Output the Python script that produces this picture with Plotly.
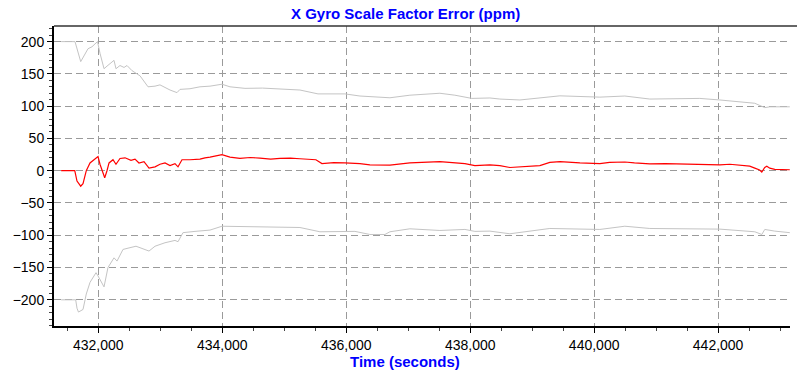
import plotly.graph_objects as go

# Time (seconds) and values (ppm)
t_red = [431400, 431620, 431656, 431716, 431753, 431806, 431866, 431958, 431995, 432027,
         432103, 432140, 432173, 432237, 432285, 432350, 432431, 432527, 432592, 432656,
         432737, 432818, 432915, 432995, 433076, 433157, 433237, 433286, 433350, 433479,
         433640, 433721, 433802, 433995, 434124, 434285, 434450, 434608, 434780, 434931,
         435100, 435253, 435511, 435608, 435800, 435979, 436221, 436382, 436705, 437027,
         437300, 437511, 437915, 438076, 438318, 438479, 438640, 438900, 439124, 439285,
         439450, 439770, 440092, 440250, 440495, 440650, 440898, 441150, 441544, 442027,
         442190, 442350, 442510, 442592, 442670, 442705, 442753, 442786, 442834, 442915,
         443157]
v_red = [0, 0, -16, -24, -20, 0, 12, 20, 22, 10,
         -11, 0, 12, 17, 10, 19, 20, 16, 18, 12,
         14, 4, 6, 10, 12, 8, 11, 6, 17, 17,
         18, 20, 21, 25, 21, 19, 20.5, 19.5, 18, 19,
         19.5, 18.5, 17, 11, 12.5, 12, 11, 9, 8.5, 12,
         13, 14, 11, 8, 9, 8, 5, 6, 8, 13,
         14, 12, 11, 13, 13.5, 12, 10.5, 11, 10, 9,
         10, 8, 7, 4, 1, -2, 5, 7, 4, 2,
         1.5]

t_upper = [431400, 431624, 431716, 431753, 431834, 431898, 431963, 431987, 432027, 432092,
           432140, 432253, 432285, 432350, 432415, 432463, 432544, 432608, 432673, 432802,
           432915, 432995, 433157, 433269, 433318, 433479, 433640, 433802, 433995, 434124,
           434366, 434650, 434931, 435253, 435544, 435979, 436221, 436705, 437027, 437511,
           437753, 438028, 438318, 438479, 438802, 439124, 439447, 440092, 440495, 440898,
           441705, 442027, 442592, 442753, 442834, 443157]
v_upper = [200, 200, 169, 176, 189, 192, 197, 200, 182, 158,
           162, 171, 158, 163, 160, 163, 155, 151, 147, 130,
           131, 133, 125, 121, 126, 127, 130, 131, 134, 130,
           127.6, 128, 126.5, 125, 119, 119, 115.7, 113, 117, 120,
           117, 112, 112.7, 111, 109.6, 113, 116, 114, 115.7, 111,
           112, 109.6, 104.5, 97.7, 99, 99]

t_lower = [431400, 431635, 431656, 431680, 431753, 431806, 431866, 431963, 431995, 432092,
           432156, 432253, 432302, 432398, 432479, 432608, 432818, 432915, 433076, 433237,
           433286, 433366, 433560, 433640, 433802, 433995, 434608, 435253, 435576, 436140,
           436382, 436624, 436705, 437027, 437511, 437915, 438076, 438318, 438640, 439285,
           440092, 440495, 440898, 441705, 442027, 442592, 442705, 442753, 442915, 443157]
v_lower = [-200, -200, -213, -219, -215, -191, -173, -158, -163, -180,
           -150, -135, -140, -122, -120, -117, -124.5, -117, -111.6, -108,
           -110, -96, -94, -93, -92, -86, -87.5, -88, -94.6, -94,
           -98.8, -98.8, -94.6, -90, -92.6, -91, -94, -93.6, -97.7, -89.5,
           -91, -86, -89.5, -91, -90.5, -94.6, -98.8, -91, -93.6, -96]

y_ticks = [-200, -150, -100, -50, 0, 50, 100, 150, 200]
x_ticks = [432000, 434000, 436000, 438000, 440000, 442000]
x_labels = ["432,000", "434,000", "436,000", "438,000", "440,000", "442,000"]

fig = go.Figure()
fig.add_trace(go.Scatter(x=t_upper, y=v_upper, mode="lines",
                         line=dict(color="#C4C4C4", width=1), hoverinfo="skip"))
fig.add_trace(go.Scatter(x=t_lower, y=v_lower, mode="lines",
                         line=dict(color="#C4C4C4", width=1), hoverinfo="skip"))
fig.add_trace(go.Scatter(x=t_red, y=v_red, mode="lines",
                         line=dict(color="#FF0000", width=1.2)))

font_family = "Liberation Sans, Arial, sans-serif"
blue_bold = dict(family=font_family, size=15, color="#0000FF")
fig.update_layout(
    width=797, height=374,
    margin=dict(l=54, r=7, t=26, b=48, autoexpand=False),
    paper_bgcolor="white", plot_bgcolor="white",
    showlegend=False,
    font=dict(family=font_family, size=14, color="black"),
    annotations=[
        dict(text="<b>X Gyro Scale Factor Error (ppm)</b>", font=blue_bold,
             xref="paper", yref="paper", x=(405 - 54) / 736, y=1, yshift=13,
             xanchor="center", yanchor="middle", showarrow=False),
        dict(text="<b>Time (seconds)</b>", font=blue_bold,
             xref="paper", yref="paper", x=(405 - 54) / 736, y=0, yshift=-35,
             xanchor="center", yanchor="middle", showarrow=False),
    ],
)
fig.update_xaxes(
    range=[431285, 443160], automargin=False,
    tickvals=x_ticks, ticktext=x_labels,
    ticks="outside", ticklen=5, tickcolor="black", tickwidth=1,
    showline=True, linecolor="black", linewidth=2,
    showgrid=True, gridcolor="#9A9A9A", griddash="7px,4px", gridwidth=1,
    zeroline=False,
    minor=dict(dtick=500, tick0=432000, ticks="outside", ticklen=3, tickcolor="#444", showgrid=False),
)
fig.update_yaxes(
    range=[-240.6, 224.2], automargin=False,
    tickvals=y_ticks,
    ticks="outside", ticklen=5, tickcolor="black", tickwidth=1,
    showline=True, linecolor="black", linewidth=2,
    showgrid=True, gridcolor="#9A9A9A", griddash="7px,4px", gridwidth=1,
    zeroline=False,
    minor=dict(dtick=10, tick0=0, ticks="outside", ticklen=3, tickcolor="#444", showgrid=False),
)
fig.add_shape(type="line", xref="paper", yref="paper", x0=0, x1=743/736, y0=1, y1=1,
              line=dict(color="#333333", width=1.5))

fig.write_html("out.html", config={"displayModeBar": False},
               post_script="document.body.style.margin='0';document.body.style.overflow='hidden';")
